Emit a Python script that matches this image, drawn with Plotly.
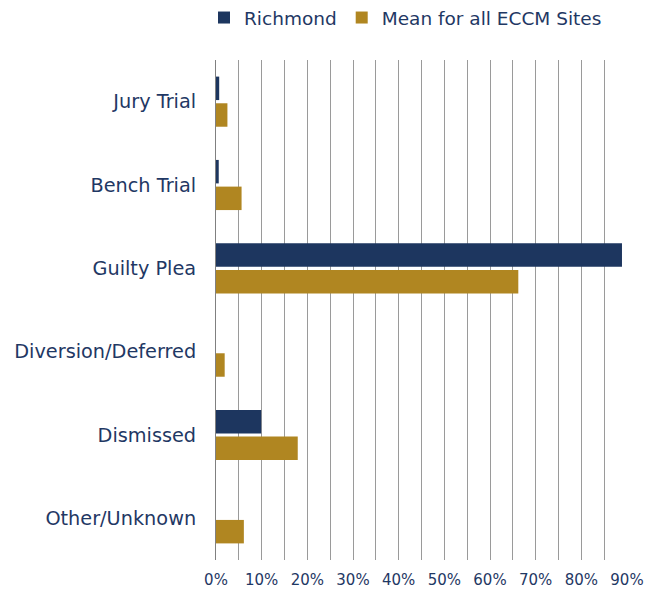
import plotly.graph_objects as go

categories = ["Jury Trial", "Bench Trial", "Guilty Plea", "Diversion/Deferred", "Dismissed", "Other/Unknown"]
richmond = [0.007, 0.006, 0.889, 0.0, 0.099, 0.0]
mean_all = [0.025, 0.056, 0.662, 0.019, 0.179, 0.061]
x_tickvals = [0, 0.1, 0.2, 0.3, 0.4, 0.5, 0.6, 0.7, 0.8, 0.9]
x_ticktext = ["0%", "10%", "20%", "30%", "40%", "50%", "60%", "70%", "80%", "90%"]

NAVY = "#1D365F"
GOLD = "#B08621"
TEXT = "#1F3864"
FONT = "DejaVu Sans"

fig = go.Figure()
fig.add_trace(go.Bar(y=categories, x=richmond, orientation="h", name="Richmond",
                     marker=dict(color=NAVY, line=dict(width=0))))
fig.add_trace(go.Bar(y=categories, x=mean_all, orientation="h", name="Mean for all ECCM Sites",
                     marker=dict(color=GOLD, line=dict(width=0))))

fig.update_layout(
    width=653, height=590,
    margin=dict(l=216, r=26, t=60, b=30, autoexpand=False),
    paper_bgcolor="white", plot_bgcolor="white",
    barmode="group", bargap=0.36, bargroupgap=0.12,
    font=dict(family=FONT, color=TEXT, size=19),
    legend=dict(orientation="h", xref="container", yref="container",
                x=204 / 653, xanchor="left", y=1 - 18 / 590, yanchor="middle",
                font=dict(size=18.5, color=TEXT), traceorder="normal",
                itemwidth=30),
    showlegend=True,
)
fig.update_yaxes(autorange="reversed", showgrid=False, showline=True, linecolor="#808080",
                 linewidth=1, ticks="", ticklabelstandoff=15, automargin=False,
                 tickfont=dict(size=19.3, color=TEXT))
fig.update_xaxes(range=[0, 0.9], tickvals=x_tickvals, ticktext=x_ticktext,
                 showgrid=True, gridcolor="#9A9A9A", gridwidth=1,
                 minor=dict(dtick=0.05, showgrid=True, gridcolor="#9A9A9A", gridwidth=1),
                 zeroline=False, showline=False, ticks="", ticklabelstandoff=9, automargin=False,
                 tickfont=dict(size=15, color=TEXT))

fig.write_html("out.html", config={"displayModeBar": False},
               post_script="document.body.style.margin='0';")
